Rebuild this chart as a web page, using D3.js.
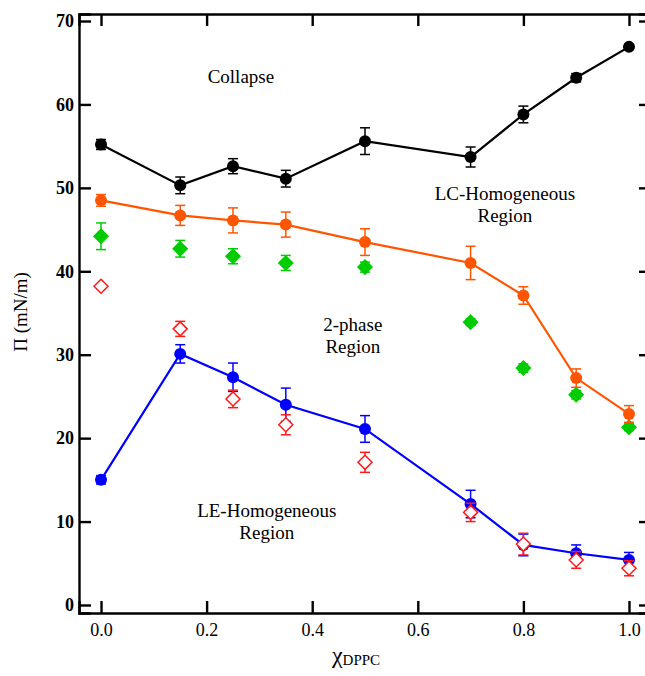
<!DOCTYPE html>
<html>
<head>
<meta charset="utf-8">
<script src="https://cdn.jsdelivr.net/npm/d3@7"></script>
<style>
  html, body { margin: 0; padding: 0; background: #fff; }
</style>
</head>
<body>
<svg id="chart" width="645" height="676"></svg>
<script>
// DPPC mole fraction
const xDPPC = [0, 0.15, 0.25, 0.35, 0.5, 0.7, 0.8, 0.9, 1.0];

// Collapse pressure (black)
const collapsePi  = [55.2, 50.3, 52.6, 51.1, 55.6, 53.7, 58.8, 63.2, 66.9];
const collapseErr = [0.6, 1.0, 0.9, 1.0, 1.6, 1.2, 1.0, 0.5, 0.3];

// Upper boundary of 2-phase region (orange)
const lcPi  = [48.5, 46.7, 46.1, 45.6, 43.5, 41.0, 37.1, 27.2, 22.9];
const lcErr = [0.7, 1.2, 1.5, 1.5, 1.6, 2.0, 1.05, 1.1, 1.0];

// Filled green diamonds
const plateauPi  = [44.2, 42.7, 41.8, 41.0, 40.5, 33.9, 28.4, 25.2, 21.3];
const plateauErr = [1.6, 1.0, 0.9, 0.9, 0.6, 0.4, 0.5, 0.5, 0.4];

// Open red diamonds
const onsetPi  = [38.2, 33.1, 24.7, 21.6, 17.1, 11.1, 7.3, 5.4, 4.4];
const onsetErr = [0.3, 0.9, 1.05, 1.2, 1.2, 1.1, 1.3, 1.0, 0.9];

// Lower boundary of 2-phase region (blue)
const lePi  = [15.0, 30.1, 27.3, 24.0, 21.1, 12.1, 7.2, 6.2, 5.4];
const leErr = [0.5, 1.1, 1.7, 2.0, 1.6, 1.65, 1.3, 1.0, 0.9];

const xTicks = [0, 0.2, 0.4, 0.6, 0.8, 1.0];
const yTicks = [0, 10, 20, 30, 40, 50, 60, 70];

const regionLabels = [
  { lines: ["Collapse"], x: 0.265, y: 62.6 },
  { lines: ["LC-Homogeneous", "Region"], x: 0.765, y: 48.5 },
  { lines: ["2-phase", "Region"], x: 0.477, y: 32.8 },
  { lines: ["LE-Homogeneous", "Region"], x: 0.314, y: 10.5 }
];

const serif = "'Liberation Serif', 'Times New Roman', serif";
const svg = d3.select("#chart");
const plot = { left: 79, right: 651, top: 14, bottom: 613 };

const x = d3.scaleLinear().domain([-0.0417, 1.0417]).range([plot.left, plot.right]);
const y = d3.scaleLinear().domain([-0.96, 70.84]).range([plot.bottom, plot.top]);

// frame with inward ticks on all four sides
const tickLen = 12;
const axisG = svg.append("g");
const xAxisG = axisG.append("g").attr("transform", `translate(0,${plot.bottom})`)
  .call(d3.axisBottom(x).tickValues(xTicks).tickSize(-tickLen).tickPadding(10).tickFormat(d3.format(".1f")));
axisG.append("g").attr("transform", `translate(0,${plot.top})`)
  .call(d3.axisTop(x).tickValues(xTicks).tickSize(-tickLen).tickFormat(""));
const yAxisG = axisG.append("g").attr("transform", `translate(${plot.left},0)`)
  .call(d3.axisLeft(y).tickValues(yTicks).tickSize(-tickLen).tickPadding(5).tickFormat(d3.format("d")));
axisG.append("g").attr("transform", `translate(${plot.right},0)`)
  .call(d3.axisRight(y).tickValues(yTicks).tickSize(-tickLen).tickFormat(""));
axisG.selectAll("g").attr("font-family", serif);
axisG.selectAll(".domain").attr("stroke", "#000").attr("stroke-width", 2.4);
axisG.selectAll(".tick line").attr("stroke", "#000").attr("stroke-width", 2.4);
xAxisG.selectAll(".tick text").attr("font-family", serif).attr("font-size", 18).attr("fill", "#000");
yAxisG.selectAll(".tick text").attr("font-family", serif).attr("font-size", 18)
  .attr("font-weight", "bold").attr("fill", "#000");

// axis titles
svg.append("text")
  .attr("transform", `translate(27,312) rotate(-90)`)
  .attr("text-anchor", "middle")
  .attr("font-family", serif)
  .attr("font-size", 19)
  .text("Π (mN/m)");

const xt = svg.append("text")
  .attr("x", 356).attr("y", 663)
  .attr("text-anchor", "middle")
  .attr("font-family", serif)
  .attr("font-size", 24);
xt.append("tspan").text("χ");
xt.append("tspan").attr("dy", 2).attr("font-size", 15).text("DPPC");

// region annotations
regionLabels.forEach(r => {
  const t = svg.append("text")
    .attr("text-anchor", "middle")
    .attr("font-family", serif)
    .attr("font-size", 19);
  r.lines.forEach((ln, i) => {
    t.append("tspan").attr("x", x(r.x)).attr("y", y(r.y) + i * 22).text(ln);
  });
});

const capHalf = 5;
function errorBars(vals, errs, color) {
  const g = svg.append("g").attr("stroke", color).attr("stroke-width", 1.5).attr("fill", "none");
  xDPPC.forEach((xv, i) => {
    const cx = x(xv), y1 = y(vals[i] + errs[i]), y0 = y(vals[i] - errs[i]);
    g.append("line").attr("x1", cx).attr("x2", cx).attr("y1", y1).attr("y2", y0);
    g.append("line").attr("x1", cx - capHalf).attr("x2", cx + capHalf).attr("y1", y1).attr("y2", y1);
    g.append("line").attr("x1", cx - capHalf).attr("x2", cx + capHalf).attr("y1", y0).attr("y2", y0);
  });
}

function lineSeries(vals, color) {
  const line = d3.line().x((d, i) => x(xDPPC[i])).y(d => y(d));
  svg.append("path").datum(vals).attr("d", line)
    .attr("fill", "none").attr("stroke", color).attr("stroke-width", 2.2);
}

function circles(vals, color) {
  svg.append("g").selectAll("circle").data(vals).join("circle")
    .attr("cx", (d, i) => x(xDPPC[i])).attr("cy", d => y(d))
    .attr("r", 6).attr("fill", color);
}

function diamonds(vals, stroke, fill, size) {
  const half = size / 2;
  svg.append("g").selectAll("path").data(vals).join("path")
    .attr("d", (d, i) => {
      const cx = x(xDPPC[i]), cy = y(d);
      return `M${cx},${cy - half}L${cx + half},${cy}L${cx},${cy + half}L${cx - half},${cy}Z`;
    })
    .attr("fill", fill).attr("stroke", stroke).attr("stroke-width", 1.5);
}

// green filled diamonds
errorBars(plateauPi, plateauErr, "#00cc00");
diamonds(plateauPi, "#00cc00", "#00cc00", 14);

// black collapse series
lineSeries(collapsePi, "#000");
errorBars(collapsePi, collapseErr, "#000");
circles(collapsePi, "#000");

// orange series
lineSeries(lcPi, "#ff5500");
errorBars(lcPi, lcErr, "#ff5500");
circles(lcPi, "#ff5500");

// blue series
lineSeries(lePi, "#0000ff");
errorBars(lePi, leErr, "#0000ff");
circles(lePi, "#0000ff");

// red open diamonds
errorBars(onsetPi, onsetErr, "#ff1a1a");
diamonds(onsetPi, "#ff1a1a", "#fff", 14);
</script>
</body>
</html>
